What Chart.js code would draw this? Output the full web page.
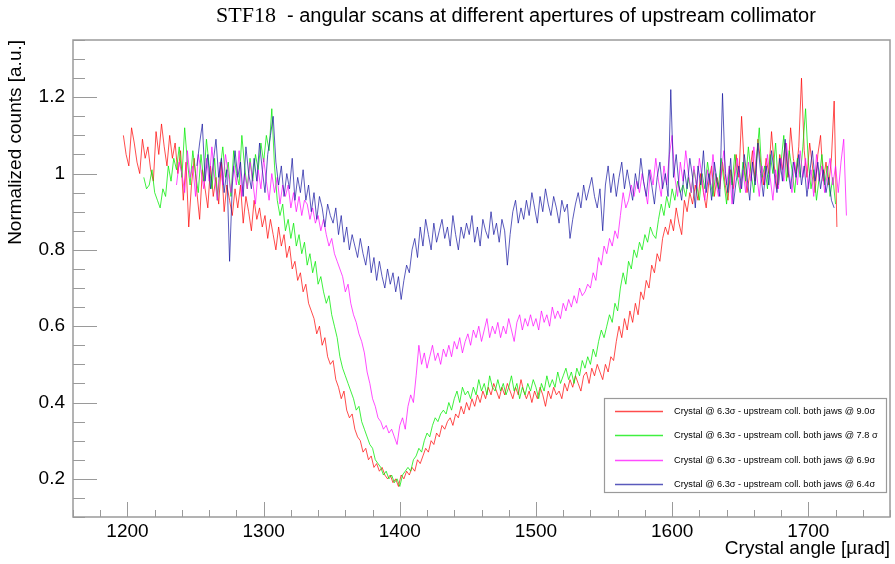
<!DOCTYPE html>
<html>
<head>
<meta charset="utf-8">
<script src="https://cdn.jsdelivr.net/npm/chart.js@4.4.1/dist/chart.umd.min.js"></script>
<style>
  html, body { margin: 0; padding: 0; background: #fff; }
  #wrap { width: 895px; height: 564px; }
</style>
</head>
<body>
<div id="wrap"><canvas id="scanChart" width="895" height="564"></canvas></div>
<script>
// tick positions
var xTicks = [1200, 1300, 1400, 1500, 1600, 1700];
var yTicks = [0.2, 0.4, 0.6, 0.8, 1, 1.2];

// scan grid: first angle and step in urad
var step = 2;
var redStart = 1197, greenStart = 1212, magentaStart = 1236, blueStart = 1251;

// jaws @ 9.0 sigma
var redCounts = [
  1.10, 1.05, 1.02, 1.12, 1.08, 1.03, 1.00, 1.09, 1.04, 1.07,
  1.01, 0.98, 1.11, 1.05, 1.13, 1.07, 1.02, 1.10, 1.04, 1.08,
  1.00, 1.06, 0.93, 1.03, 0.86, 0.97, 1.04, 0.95, 0.88, 1.01,
  0.96, 0.91, 1.02, 0.94, 0.99, 0.92, 1.03, 0.90, 0.97, 0.93,
  0.89, 0.96, 0.91, 0.97, 0.87, 0.94, 0.90, 0.85, 0.93, 0.88,
  0.91, 0.86, 0.89, 0.83, 0.88, 0.84, 0.80, 0.86, 0.81, 0.84,
  0.78, 0.81, 0.75, 0.77, 0.72, 0.74, 0.69, 0.71, 0.66, 0.64,
  0.62, 0.58, 0.60, 0.55, 0.57, 0.52, 0.50, 0.51, 0.46, 0.44,
  0.41, 0.43, 0.38, 0.36, 0.37, 0.33, 0.31, 0.30, 0.27, 0.28,
  0.25, 0.26, 0.23, 0.24, 0.22, 0.23, 0.21, 0.20, 0.21, 0.19,
  0.20, 0.18, 0.21, 0.20, 0.22, 0.21, 0.23, 0.22, 0.25, 0.24,
  0.26, 0.28, 0.27, 0.30, 0.29, 0.32, 0.31, 0.34, 0.33, 0.35,
  0.36, 0.34, 0.37, 0.36, 0.39, 0.37, 0.40, 0.38, 0.41, 0.39,
  0.42, 0.40, 0.43, 0.41, 0.44, 0.42, 0.45, 0.43, 0.41, 0.44,
  0.42, 0.45, 0.43, 0.41, 0.44, 0.42, 0.46, 0.43, 0.41, 0.43,
  0.40, 0.43, 0.41, 0.44, 0.42, 0.39, 0.43, 0.41, 0.44, 0.42,
  0.43, 0.41, 0.45, 0.43, 0.46, 0.44, 0.47, 0.45, 0.43, 0.47,
  0.48, 0.45, 0.49, 0.47, 0.50, 0.48, 0.46, 0.50, 0.48, 0.52,
  0.51, 0.56, 0.60, 0.57, 0.62, 0.59, 0.64, 0.61, 0.66, 0.63,
  0.69, 0.67, 0.72, 0.70, 0.76, 0.74, 0.79, 0.77, 0.83, 0.86,
  0.84, 0.88, 0.85, 0.91, 0.87, 0.84, 0.93, 0.90, 0.95, 0.92,
  0.97, 0.93, 1.00, 0.95, 0.91, 0.98, 1.02, 0.94, 0.99, 0.96,
  1.03, 0.97, 0.93, 1.01, 0.96, 1.05, 0.99, 1.15, 1.02, 0.95,
  1.00, 1.06, 0.98, 1.09, 1.03, 0.97, 1.04, 1.00, 1.11, 1.02,
  0.96, 1.05, 1.01, 1.08, 0.99, 1.12, 1.04, 1.00, 1.07, 1.25,
  1.06, 0.99, 1.08, 1.02, 0.95, 1.05, 1.10, 0.98, 1.03, 0.97,
  1.04, 1.19, 0.86
];

// jaws @ 7.8 sigma
var greenCounts = [
  0.99, 0.96, 0.97, 1.01, 0.95, 0.93, 0.91, 0.96, 0.94, 1.02,
  0.98, 1.04, 1.01, 1.07, 0.99, 1.12, 1.03, 0.97, 1.06, 1.00,
  0.95, 1.05, 0.98, 1.09, 1.02, 0.96, 1.04, 0.93, 1.01, 1.07,
  0.99, 1.03, 0.94, 1.06, 1.00, 0.97, 1.10, 1.02, 0.96, 1.04,
  0.98, 1.05, 1.01, 1.08, 1.03, 1.10, 1.06, 1.17, 1.02, 0.93,
  0.89, 0.92, 0.85, 0.88, 0.83, 0.87, 0.81, 0.84, 0.79, 0.82,
  0.76, 0.79, 0.74, 0.77, 0.71, 0.73, 0.69, 0.66, 0.68, 0.63,
  0.60, 0.57, 0.52, 0.49, 0.47, 0.45, 0.43, 0.41, 0.38, 0.39,
  0.35, 0.33, 0.31, 0.29, 0.28, 0.25, 0.24, 0.23, 0.21, 0.22,
  0.20, 0.21, 0.19, 0.20, 0.18, 0.21, 0.22, 0.23, 0.22, 0.25,
  0.26, 0.28, 0.27, 0.30, 0.32, 0.31, 0.34, 0.36, 0.35, 0.37,
  0.38, 0.37, 0.40, 0.38, 0.41, 0.43, 0.40, 0.44, 0.42, 0.43,
  0.41, 0.44, 0.42, 0.46, 0.43, 0.45, 0.42, 0.47, 0.44, 0.43,
  0.46, 0.43, 0.45, 0.42, 0.44, 0.47, 0.43, 0.45, 0.41, 0.44,
  0.42, 0.45, 0.43, 0.46, 0.44, 0.41, 0.45, 0.43, 0.47, 0.44,
  0.46, 0.44, 0.48, 0.45, 0.47, 0.49, 0.46, 0.48, 0.45, 0.49,
  0.47, 0.51, 0.49, 0.52, 0.50, 0.54, 0.52, 0.56, 0.59, 0.57,
  0.60, 0.63, 0.61, 0.66, 0.64, 0.70, 0.74, 0.71, 0.77, 0.75,
  0.80, 0.78, 0.82, 0.80, 0.84, 0.82, 0.86, 0.84, 0.83, 0.88,
  0.92, 0.89, 0.94, 0.91, 0.96, 0.93, 0.98, 0.95, 0.97, 0.94,
  0.99, 0.95, 1.01, 0.97, 0.93, 1.00, 0.96, 1.03, 0.98, 0.94,
  1.00, 0.96, 1.04, 0.98, 0.92, 1.02, 0.97, 1.05, 0.99, 0.95,
  1.03, 0.98, 1.07, 1.00, 0.95, 1.04, 1.12, 0.99, 1.02, 0.96,
  1.05, 1.00, 1.08, 0.97, 1.03, 1.10, 0.98, 1.06, 1.01, 0.95,
  1.04, 0.99, 1.07, 1.17, 1.03, 0.96, 1.01, 0.93, 0.99, 1.05,
  0.97, 1.02, 0.94, 0.99, 0.92
];

// jaws @ 6.9 sigma
var magentaCounts = [
  0.97, 1.03, 1.00, 0.95, 1.06, 0.99, 1.02, 0.94, 1.05, 1.01,
  0.96, 1.04, 0.98, 1.07, 0.99, 0.93, 1.03, 0.97, 1.05, 1.00,
  0.95, 1.02, 0.97, 1.06, 0.94, 1.00, 0.96, 1.03, 0.98, 0.92,
  1.01, 0.96, 1.04, 0.98, 0.93, 1.00, 0.95, 0.99, 0.92, 0.97,
  0.94, 0.97, 0.91, 0.95, 0.90, 0.94, 0.89, 0.93, 0.92, 0.88,
  0.91, 0.87, 0.89, 0.85, 0.88, 0.84, 0.81, 0.83, 0.79, 0.77,
  0.75, 0.73, 0.69, 0.71, 0.66, 0.63, 0.61, 0.58, 0.56, 0.53,
  0.48, 0.45, 0.41, 0.39, 0.36, 0.35, 0.33, 0.34, 0.32, 0.33,
  0.31, 0.29, 0.34, 0.36, 0.33, 0.39, 0.42, 0.40, 0.47, 0.55,
  0.50, 0.53, 0.49, 0.52, 0.55, 0.51, 0.53, 0.50, 0.54, 0.52,
  0.55, 0.52, 0.56, 0.54, 0.57, 0.53, 0.56, 0.58, 0.55, 0.59,
  0.57, 0.60, 0.56, 0.59, 0.62, 0.57, 0.60, 0.58, 0.61, 0.57,
  0.60, 0.58, 0.62, 0.59, 0.56, 0.61, 0.63, 0.59, 0.62, 0.60,
  0.63, 0.60, 0.62, 0.59, 0.64, 0.61, 0.63, 0.60, 0.65, 0.62,
  0.64, 0.62, 0.66, 0.64, 0.67, 0.65, 0.68, 0.66, 0.70, 0.68,
  0.69, 0.71, 0.70, 0.74, 0.72, 0.78, 0.76, 0.81, 0.79, 0.83,
  0.81, 0.85, 0.83, 0.89, 0.95, 0.91, 0.93, 0.97, 0.94, 0.98,
  0.95, 1.00, 0.96, 0.92, 1.01, 0.97, 1.04, 0.98, 0.94, 1.02,
  0.97, 1.05, 1.10, 0.99, 0.94, 1.03, 0.98, 1.06, 1.00, 0.95,
  1.02, 0.96, 1.04, 0.99, 0.93, 1.01, 0.97, 1.05, 0.98, 0.94,
  1.00, 1.06, 0.97, 1.02, 0.92, 0.99, 1.04, 0.96, 1.01, 0.95,
  1.03, 0.98, 1.07, 1.00, 0.94, 1.02, 0.97, 1.05, 0.99, 0.93,
  1.01, 0.96, 1.04, 0.98, 1.08, 1.00, 0.95, 1.03, 0.97, 1.06,
  0.99, 1.04, 0.96, 1.01, 0.94, 1.05, 0.98, 1.02, 0.95, 1.00,
  1.04, 0.97, 1.02, 0.95, 1.03, 1.09, 0.89
];

// jaws @ 6.4 sigma
var blueCounts = [
  1.02, 1.08, 1.13, 0.98, 1.05, 0.96, 1.03, 1.09, 0.99, 1.04,
  0.95, 1.01, 0.77, 0.97, 1.06, 0.99, 1.03, 0.94, 1.07, 1.00,
  0.96, 1.04, 0.98, 1.08, 1.01, 0.95, 1.05, 1.10, 1.15, 1.03,
  0.97, 1.02, 0.94, 1.00, 0.96, 1.04, 0.93, 0.99, 0.95, 1.01,
  0.93, 0.97, 0.90, 0.95, 0.88, 0.94, 0.91, 0.86, 0.92, 0.89,
  0.87, 0.91, 0.84, 0.89, 0.82, 0.86, 0.80, 0.84, 0.81, 0.78,
  0.83, 0.79, 0.76, 0.81, 0.74, 0.78, 0.72, 0.77, 0.73, 0.70,
  0.75, 0.71, 0.74, 0.69, 0.73, 0.67, 0.72, 0.76, 0.74, 0.80,
  0.83, 0.78, 0.86, 0.81, 0.88, 0.84, 0.80, 0.87, 0.82, 0.85,
  0.88, 0.83, 0.86, 0.81, 0.89, 0.84, 0.80, 0.86, 0.83, 0.87,
  0.84, 0.89, 0.82, 0.86, 0.81, 0.88, 0.85, 0.83, 0.90, 0.84,
  0.87, 0.82, 0.88, 0.85, 0.76, 0.84, 0.90, 0.93, 0.87, 0.91,
  0.88, 0.93, 0.89, 0.95, 0.91, 0.87, 0.94, 0.90, 0.96, 0.92,
  0.89, 0.94, 0.91, 0.87, 0.93, 0.90, 0.92, 0.83, 0.88, 0.92,
  0.95, 0.91, 0.97, 0.93, 0.96, 0.99, 0.94, 0.91, 0.96, 0.85,
  0.97, 1.02, 0.95, 1.00, 0.94, 0.99, 1.03, 0.96, 1.01, 0.97,
  0.93, 1.00, 0.96, 1.04, 0.98, 0.94, 1.01, 0.97, 0.92, 0.99,
  1.03, 0.96, 1.00, 0.94, 1.22, 0.99, 1.05, 0.97, 0.93, 1.01,
  0.96, 1.04, 0.99, 0.91, 1.02, 0.97, 1.06, 0.95, 1.00, 0.93,
  1.03, 0.98, 0.94, 1.21, 1.00, 0.95, 1.04, 0.92, 0.98, 1.02,
  0.96, 1.05, 0.99, 0.93, 1.03, 0.97, 1.08, 1.00, 0.94, 1.02,
  0.97, 1.06, 1.00, 0.95, 1.04, 0.98, 1.09, 1.01, 0.96, 1.03,
  0.99, 1.05, 0.97, 1.02, 0.94, 1.00, 1.06, 0.98, 1.03, 0.96,
  1.01, 0.95, 0.99, 0.93, 0.91
];

var legendLabels = [
  'Crystal @ 6.3\u03c3 - upstream coll. both jaws @ 9.0\u03c3',
  'Crystal @ 6.3\u03c3 - upstream coll. both jaws @ 7.8 \u03c3',
  'Crystal @ 6.3\u03c3 - upstream coll. both jaws @ 6.9\u03c3',
  'Crystal @ 6.3\u03c3 - upstream coll. both jaws @ 6.4\u03c3'
];

var lineColors = ['rgba(255,0,0,0.7)', 'rgba(0,235,0,0.75)', 'rgba(255,0,255,0.7)', 'rgba(20,20,160,0.7)'];

function toPoints(start, values) {
  return values.map(function (v, i) { return { x: start + i * step, y: v }; });
}

var frameColor = '#9a9a9a';
var sans = '"Liberation Sans", Arial, Helvetica, sans-serif';

// ROOT-like frame, inside ticks, title and legend box
var rootStyle = {
  id: 'rootStyle',
  afterDatasetsDraw: function (chart) {
    var ctx = chart.ctx;
    var a = chart.chartArea;
    var xs = chart.scales.x, ys = chart.scales.y;
    ctx.save();
    ctx.strokeStyle = frameColor;
    ctx.lineWidth = 1.5;
    ctx.strokeRect(a.left, a.top, a.right - a.left, a.bottom - a.top);

    ctx.lineWidth = 1;
    ctx.beginPath();
    // x ticks: major every 100, minor every 20
    for (var v = 1160; v <= 1760; v += 20) {
      var px = Math.round(xs.getPixelForValue(v)) + 0.5;
      var len = (v % 100 === 0) ? 15 : 7;
      ctx.moveTo(px, a.bottom);
      ctx.lineTo(px, a.bottom - len);
    }
    // y ticks: major every 0.2, minor every 0.05
    for (var k = 2; k <= 27; k++) {
      var py = Math.round(ys.getPixelForValue(k * 0.05)) + 0.5;
      var ylen = (k % 4 === 0) ? 24 : 12;
      ctx.moveTo(a.left, py);
      ctx.lineTo(a.left + ylen, py);
    }
    ctx.stroke();

    // legend
    var lx = 604, ly = 398, lw = 282, lh = 94;
    ctx.fillStyle = '#fff';
    ctx.fillRect(lx, ly, lw, lh);
    ctx.strokeStyle = frameColor;
    ctx.lineWidth = 1.2;
    ctx.strokeRect(lx + 0.5, ly + 0.5, lw, lh);
    ctx.font = '9.2px ' + sans;
    ctx.textBaseline = 'middle';
    ctx.textAlign = 'left';
    chart.data.datasets.forEach(function (ds, i) {
      var ry = Math.round(ly + 13 + i * 24.3);
      ctx.strokeStyle = lineColors[i];
      ctx.lineWidth = 1.3;
      ctx.beginPath();
      ctx.moveTo(615, ry + 0.5);
      ctx.lineTo(663, ry + 0.5);
      ctx.stroke();
      ctx.fillStyle = '#000';
      ctx.fillText(ds.label, 674, ry);
    });

    // title: serif tag then sans text
    ctx.fillStyle = '#000';
    ctx.textBaseline = 'alphabetic';
    ctx.font = '22px "Liberation Serif", "Times New Roman", serif';
    ctx.fillText('STF18', 216, 22);
    var w = ctx.measureText('STF18').width;
    ctx.font = '20px ' + sans;
    ctx.fillText('  - angular scans at different apertures of upstream collimator', 216 + w, 22);
    ctx.restore();
  }
};

var scanChart = new Chart(document.getElementById('scanChart').getContext('2d'), {
  type: 'line',
  data: {
    datasets: [
      { label: legendLabels[0], data: toPoints(redStart, redCounts), borderColor: lineColors[0], order: 4 },
      { label: legendLabels[1], data: toPoints(greenStart, greenCounts), borderColor: lineColors[1], order: 3 },
      { label: legendLabels[2], data: toPoints(magentaStart, magentaCounts), borderColor: lineColors[2], order: 2 },
      { label: legendLabels[3], data: toPoints(blueStart, blueCounts), borderColor: lineColors[3], order: 1 }
    ]
  },
  options: {
    responsive: false,
    animation: false,
    events: [],
    layout: { padding: { top: 40, right: 5, left: 0, bottom: 0 } },
    elements: {
      line: { borderWidth: 1, tension: 0, fill: false },
      point: { radius: 0 }
    },
    plugins: {
      legend: { display: false },
      tooltip: { enabled: false },
      title: { display: false }
    },
    scales: {
      x: {
        type: 'linear',
        min: 1160,
        max: 1760,
        afterBuildTicks: function (s) { s.ticks = xTicks.map(function (v) { return { value: v }; }); },
        afterFit: function (s) { s.height = 47; },
        grid: { display: false, drawTicks: false },
        border: { display: false },
        ticks: {
          padding: 3,
          color: '#000',
          font: { family: sans, size: 19 },
          maxRotation: 0,
          callback: function (v) { return String(v); }
        },
        title: {
          display: true,
          text: 'Crystal angle [\u00b5rad]',
          align: 'end',
          color: '#000',
          font: { family: sans, size: 19 },
          padding: { top: 2, bottom: 4 }
        }
      },
      y: {
        type: 'linear',
        min: 0.1,
        max: 1.35,
        afterBuildTicks: function (s) { s.ticks = yTicks.map(function (v) { return { value: v }; }); },
        afterFit: function (s) { s.width = 73; },
        grid: { display: false, drawTicks: false },
        border: { display: false },
        ticks: {
          padding: 8,
          color: '#000',
          font: { family: sans, size: 19 },
          callback: function (v) { return String(v); }
        },
        title: {
          display: true,
          text: 'Normalized counts [a.u.]',
          align: 'end',
          color: '#000',
          font: { family: sans, size: 19 },
          padding: { top: 4, bottom: 2 }
        }
      }
    }
  },
  plugins: [rootStyle]
});
</script>
</body>
</html>
